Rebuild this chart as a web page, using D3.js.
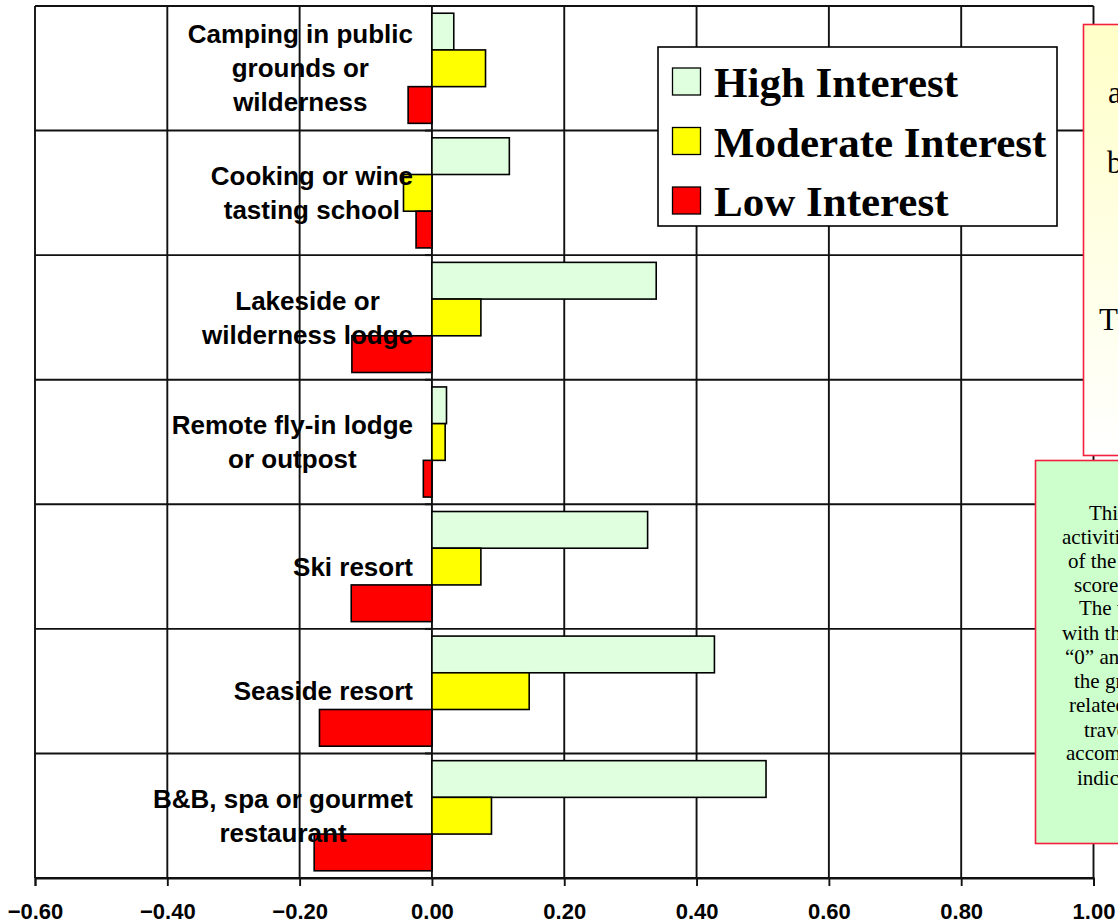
<!DOCTYPE html>
<html>
<head>
<meta charset="utf-8">
<script src="https://cdn.jsdelivr.net/npm/d3@7"></script>
<style>
  html, body { margin: 0; padding: 0; background: #fff; overflow: hidden; }
  svg { display: block; }
</style>
</head>
<body>
<svg id="chart" width="1118" height="923"></svg>
<script>
// Travel accommodation interest scores by activity type
const categories = [
  "Camping in public\ngrounds or\nwilderness",
  "Cooking or wine\ntasting school",
  "Lakeside or\nwilderness lodge",
  "Remote fly-in lodge\nor outpost",
  "Ski resort",
  "Seaside resort",
  "B&B, spa or gourmet\nrestaurant"
];
const seriesNames = ["High Interest", "Moderate Interest", "Low Interest"];
const highInterest     = [0.033, 0.117, 0.339, 0.022, 0.326, 0.427, 0.505];
const moderateInterest = [0.081, -0.043, 0.074, 0.020, 0.074, 0.147, 0.090];
const lowInterest      = [-0.036, -0.024, -0.121, -0.013, -0.122, -0.170, -0.178];
const xTicks = [-0.6, -0.4, -0.2, 0.0, 0.2, 0.4, 0.6, 0.8, 1.0];

// Note boxes on the right edge of the page (text runs past the window)
const noteTopLines = [
  { text: "a", x: 1108, y: 103 },
  { text: "b", x: 1107, y: 173 },
  { text: "T", x: 1099, y: 330 }
];
const noteBottomLines = [
  { text: "This", x: 1089, y: 520 },
  { text: "activities", x: 1062, y: 544 },
  { text: "of the", x: 1068, y: 568 },
  { text: "scores", x: 1074, y: 592 },
  { text: "The w", x: 1079, y: 615 },
  { text: "with the", x: 1062, y: 640 },
  { text: "\u201C0\u201D and", x: 1065, y: 664 },
  { text: "the gr", x: 1074, y: 688 },
  { text: "related", x: 1069, y: 712 },
  { text: "travel", x: 1084, y: 737 },
  { text: "accommodation", x: 1066, y: 760 },
  { text: "indicate", x: 1077, y: 785 }
];

const colors = ["#dfffdf", "#ffff00", "#ff0000"];
const seriesValues = [highInterest, moderateInterest, lowInterest];
const rows = categories.map((c, i) => ({
  category: c,
  values: seriesNames.map((s, k) => ({ series: s, value: seriesValues[k][i] }))
}));

const svg = d3.select("#chart");
const plot = { left: 35, right: 1093.5, top: 6, bottom: 878 };

const x = d3.scaleLinear().domain([-0.6, 1.0]).range([plot.left, plot.right]);
const y = d3.scaleBand().domain(categories).range([plot.top, plot.bottom]).padding(0);
const barPad = y.bandwidth() * 0.058;
const ySeries = d3.scaleBand().domain(seriesNames).range([barPad, y.bandwidth() - barPad]).padding(0);

const lineColor = "#111";
const lineW = 1.9;

// Vertical grid lines at each value tick
svg.append("g").selectAll("line").data(xTicks).join("line")
  .attr("x1", d => x(d)).attr("x2", d => x(d))
  .attr("y1", plot.top).attr("y2", plot.bottom)
  .attr("stroke", lineColor).attr("stroke-width", lineW);

// Horizontal lines at category boundaries
const boundaries = categories.map(c => y(c)).concat([plot.bottom]);
svg.append("g").selectAll("line").data(boundaries).join("line")
  .attr("x1", plot.left).attr("x2", plot.right)
  .attr("y1", d => d).attr("y2", d => d)
  .attr("stroke", lineColor).attr("stroke-width", lineW);

// Category axis tick marks on the zero line
svg.append("g").selectAll("line").data(boundaries).join("line")
  .attr("x1", x(0) - 7).attr("x2", x(0))
  .attr("y1", d => d).attr("y2", d => d)
  .attr("stroke", lineColor).attr("stroke-width", lineW);

// Value axis
const xAxis = d3.axisBottom(x).tickValues(xTicks).tickFormat(d3.format(".2f")).tickSize(8).tickPadding(17);
const axisG = svg.append("g").attr("transform", `translate(0,${plot.bottom})`).call(xAxis);
axisG.select(".domain").attr("stroke", lineColor).attr("stroke-width", lineW);
axisG.selectAll(".tick line").attr("stroke", lineColor).attr("stroke-width", lineW);
axisG.selectAll(".tick text")
  .attr("fill", "#000")
  .style("font-family", "Liberation Sans, Arial, sans-serif")
  .style("font-weight", "bold")
  .style("font-size", "22px");

// Bars
const groups = svg.append("g").selectAll("g").data(rows).join("g")
  .attr("transform", d => `translate(0,${y(d.category)})`);
groups.selectAll("rect").data(d => d.values).join("rect")
  .attr("x", d => x(Math.min(0, d.value)))
  .attr("width", d => Math.abs(x(d.value) - x(0)))
  .attr("y", d => ySeries(d.series))
  .attr("height", ySeries.bandwidth())
  .attr("fill", d => colors[seriesNames.indexOf(d.series)])
  .attr("stroke", "#000").attr("stroke-width", 1.6);

// Category labels: centred lines, block right-aligned near the zero line
const labelRight = 413;
const lineGap = 34;
const labels = svg.append("g")
  .style("font-family", "Liberation Sans, Arial, sans-serif")
  .style("font-weight", "bold")
  .style("font-size", "26px")
  .attr("fill", "#000");
categories.forEach(c => {
  const lines = c.split("\n");
  const cy = y(c) + y.bandwidth() / 2;
  const t = labels.append("text").attr("text-anchor", "middle");
  const spans = lines.map((ln, i) => t.append("tspan")
    .attr("y", cy + (i - (lines.length - 1) / 2) * lineGap)
    .attr("dy", "0.35em")
    .text(ln));
  const maxW = d3.max(spans, s => s.node().getComputedTextLength());
  spans.forEach(s => s.attr("x", labelRight - maxW / 2));
});

// Legend
const legend = svg.append("g");
legend.append("rect")
  .attr("x", 658).attr("y", 47).attr("width", 399).attr("height", 179)
  .attr("fill", "#fff").attr("stroke", "#000").attr("stroke-width", 1.6);
seriesNames.forEach((s, i) => {
  const baseY = 97 + i * 59.5;
  legend.append("rect")
    .attr("x", 672.5).attr("y", baseY - 29).attr("width", 28).attr("height", 27)
    .attr("fill", colors[i]).attr("stroke", "#000").attr("stroke-width", 1.3);
  legend.append("text")
    .attr("x", 714).attr("y", baseY)
    .style("font-family", "Liberation Serif, Times New Roman, serif")
    .style("font-weight", "bold")
    .style("font-size", "43px")
    .attr("fill", "#000")
    .text(s);
});

// Note boxes
const defs = svg.append("defs");
const grad = defs.append("linearGradient").attr("id", "noteFade")
  .attr("x1", 0).attr("y1", 0).attr("x2", 0).attr("y2", 1);
grad.append("stop").attr("offset", "0%").attr("stop-color", "#ffffc8");
grad.append("stop").attr("offset", "100%").attr("stop-color", "#ffffff");

svg.append("rect")
  .attr("x", 1083.5).attr("y", 24.5).attr("width", 80).attr("height", 431)
  .attr("fill", "url(#noteFade)").attr("stroke", "#f2203c").attr("stroke-width", 1.6);
svg.append("g")
  .style("font-family", "Liberation Serif, Times New Roman, serif")
  .style("font-size", "31px").attr("fill", "#000")
  .selectAll("text").data(noteTopLines).join("text")
  .attr("x", d => d.x).attr("y", d => d.y).text(d => d.text);

svg.append("rect")
  .attr("x", 1035.5).attr("y", 460.5).attr("width", 120).attr("height", 383)
  .attr("fill", "#ccffcc").attr("stroke", "#f2203c").attr("stroke-width", 1.6);
svg.append("g")
  .style("font-family", "Liberation Serif, Times New Roman, serif")
  .style("font-size", "21px").attr("fill", "#000")
  .selectAll("text").data(noteBottomLines).join("text")
  .attr("x", d => d.x).attr("y", d => d.y).text(d => d.text);
</script>
</body>
</html>
